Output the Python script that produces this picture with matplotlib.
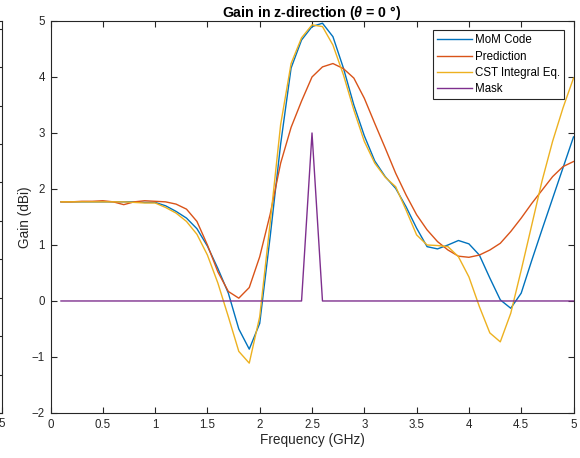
import numpy as np
import matplotlib
matplotlib.use("Agg")
import matplotlib.pyplot as plt

plt.rcParams["font.family"] = ["Liberation Sans", "DejaVu Sans"]
plt.rcParams["mathtext.fontset"] = "custom"
plt.rcParams["mathtext.it"] = "Liberation Sans:italic:bold"

# Frequency sweep (GHz)
freq = np.round(np.arange(1, 51) * 0.1, 1)

mom_code = [
    1.77, 1.77, 1.77, 1.77, 1.77, 1.77, 1.77, 1.77, 1.76, 1.76,
    1.70, 1.60, 1.48, 1.29, 0.98, 0.58, 0.14, -0.50, -0.86, -0.40,
    1.15, 2.80, 4.16, 4.66, 4.90, 4.96, 4.72, 4.16, 3.50, 2.95,
    2.50, 2.22, 2.01, 1.68, 1.30, 0.97, 0.93, 1.00, 1.08, 1.02,
    0.82, 0.41, 0.02, -0.13, 0.14, 0.72, 1.28, 1.83, 2.38, 2.93,
]
prediction = [
    1.77, 1.77, 1.78, 1.78, 1.79, 1.77, 1.72, 1.77, 1.79, 1.78,
    1.77, 1.73, 1.64, 1.42, 1.00, 0.52, 0.17, 0.05, 0.24, 0.79,
    1.55, 2.46, 3.10, 3.57, 4.00, 4.18, 4.24, 4.15, 3.98, 3.62,
    3.17, 2.73, 2.28, 1.89, 1.54, 1.27, 1.06, 0.91, 0.80, 0.78,
    0.82, 0.91, 1.03, 1.24, 1.48, 1.74, 1.98, 2.22, 2.40, 2.49,
]
cst_integral = [
    1.77, 1.77, 1.77, 1.77, 1.77, 1.77, 1.77, 1.76, 1.75, 1.75,
    1.67, 1.57, 1.42, 1.19, 0.82, 0.32, -0.28, -0.90, -1.11, -0.28,
    1.40, 3.15, 4.24, 4.70, 4.93, 4.90, 4.57, 4.04, 3.41, 2.85,
    2.46, 2.21, 2.04, 1.62, 1.18, 1.00, 0.99, 0.97, 0.79, 0.43,
    -0.10, -0.57, -0.73, -0.22, 0.55, 1.35, 2.15, 2.85, 3.45, 3.98,
]
mask = [0] * 24 + [3] + [0] * 25

colors = ["#0072BD", "#D95319", "#EDB120", "#7E2F8E"]
labels = ["MoM Code", "Prediction", "CST Integral Eq.", "Mask"]
ink = "#262626"

fig = plt.figure(figsize=(5.8, 4.58), dpi=100)

# neighbouring subplot, cut off at the left edge
ax0 = fig.add_axes([-0.9, 0.0983, 0.9035, 0.8559])
ax0.set_xlim(0, 5)
ax0.set_ylim(0, 10.2)
ax0.set_yticks(range(11))
ax0.set_yticklabels([])
ax0.set_xticks([5])
ax0.tick_params(direction="in", right=True, top=False, colors=ink, labelsize=8.3, length=4)
for s in ax0.spines.values():
    s.set_color(ink)
    s.set_linewidth(0.8)

ax = fig.add_axes([0.0871, 0.0983, 0.9017, 0.8559])
for series, c, lab in zip([mom_code, prediction, cst_integral, mask], colors, labels):
    ax.plot(freq, series, color=c, label=lab, linewidth=1.0)

ax.set_xlim(0, 5)
ax.set_ylim(-2, 5)
ax.set_xticks(np.arange(0, 5.01, 0.5))
ax.set_xticklabels(["0", "0.5", "1", "1.5", "2", "2.5", "3", "3.5", "4", "4.5", "5"])
ax.set_yticks(range(-2, 6))
ax.tick_params(direction="in", top=True, right=True, colors=ink, labelsize=8.3,
               length=4, pad=4)
for s in ax.spines.values():
    s.set_color(ink)
    s.set_linewidth(0.8)

ax.set_xlabel("Frequency (GHz)", fontsize=9.8, color=ink, labelpad=2)
ax.set_ylabel("Gain (dBi)", fontsize=9.8, color=ink, labelpad=0)
ax.set_title(r"Gain in z-direction ($\theta$ = 0 °)", fontsize=10.2, fontweight="bold", pad=3)

leg = ax.legend(loc="upper right", fontsize=8.3, fancybox=False, framealpha=1,
                edgecolor=ink, borderaxespad=0.8, handlelength=3.0,
                labelspacing=0.38, borderpad=0.35, handletextpad=0.3)
leg.get_frame().set_linewidth(0.8)

fig.savefig("out.png", dpi=100)
